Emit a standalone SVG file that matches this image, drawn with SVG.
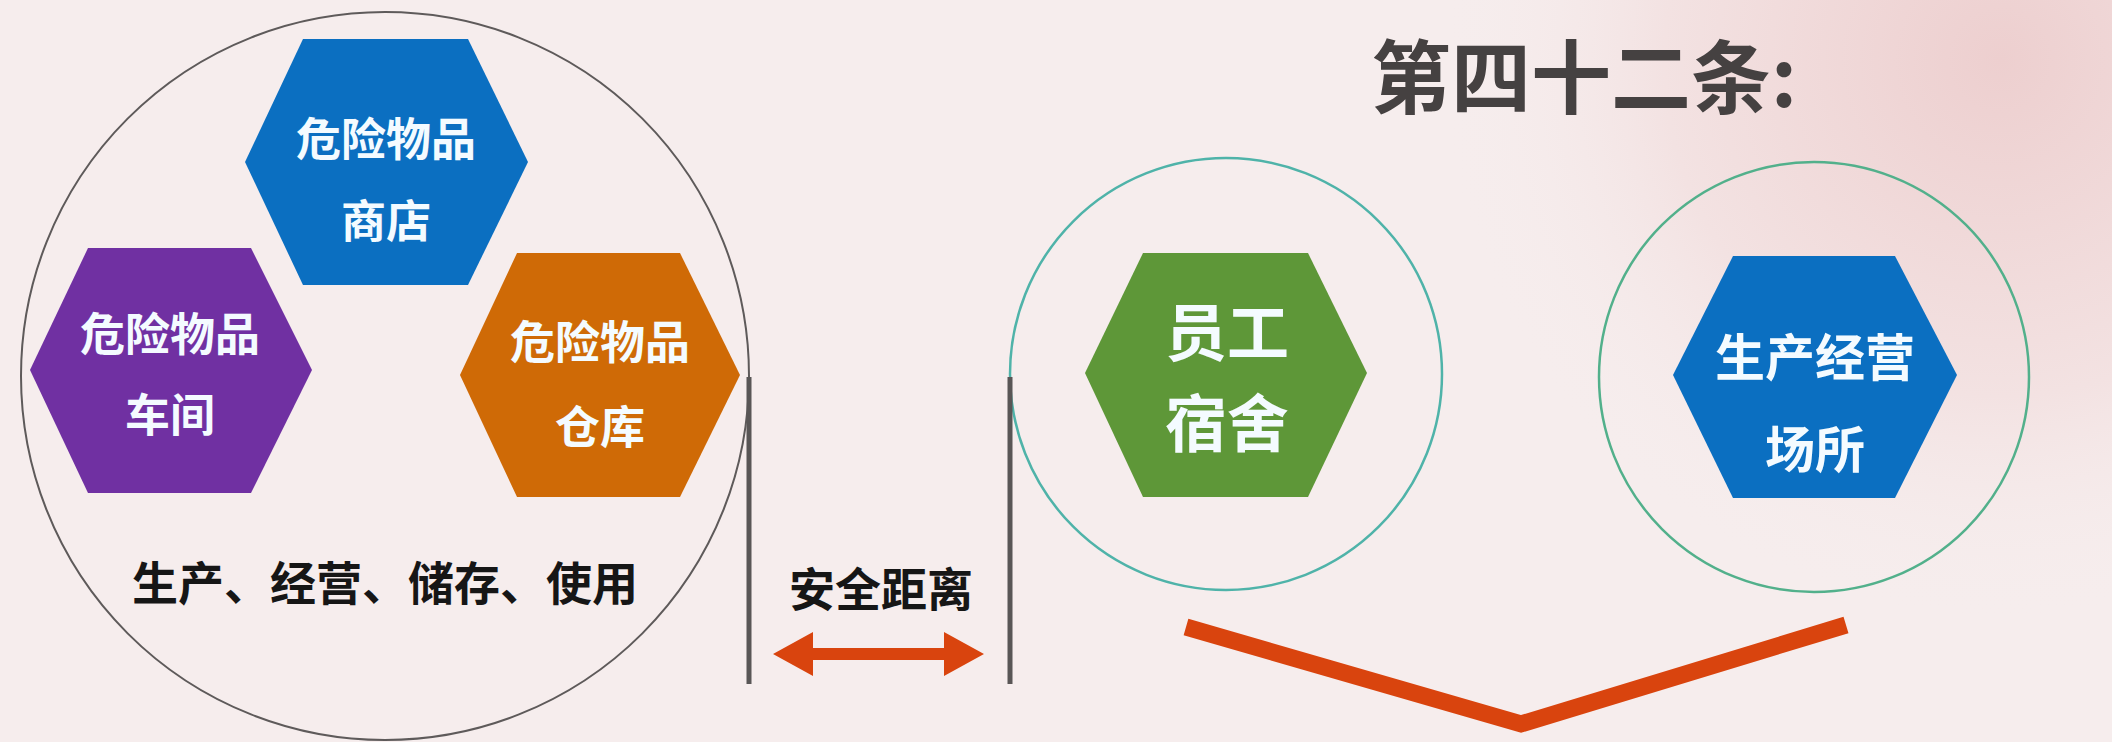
<svg xmlns="http://www.w3.org/2000/svg" width="2112" height="742" viewBox="0 0 2112 742">
  <defs>
    <radialGradient id="pink" cx="2000" cy="60" r="560" gradientUnits="userSpaceOnUse">
      <stop offset="0" stop-color="#edcfcf"/>
      <stop offset="0.6" stop-color="#f3e2e2"/>
      <stop offset="1" stop-color="#f6eded" stop-opacity="0"/>
    </radialGradient>
    <style>
      .hx { font-family: "Noto Sans CJK SC", "Noto Sans", sans-serif; font-weight: 700; fill: #f4fbff; text-anchor: middle; dominant-baseline: central; }
      .lbl { font-family: "Noto Sans CJK SC", "Noto Sans", sans-serif; font-weight: 700; fill: #161616; text-anchor: middle; dominant-baseline: central; }
      .ring { fill: none; }
    </style>
  </defs>

  <rect width="2112" height="742" fill="#f6eded"/>
  <rect width="2112" height="742" fill="url(#pink)"/>

  <text x="1584" y="72" font-family="Noto Sans CJK SC, Noto Sans, sans-serif" font-weight="700" font-size="80" fill="#454141" text-anchor="middle" dominant-baseline="central">第四十二条:</text>

  <g id="zone-hazard">
    <circle class="ring" cx="385" cy="376" r="364" stroke="#5e5a5a" stroke-width="2"/>
    <text class="lbl" x="385" y="580" font-size="46">生产、经营、储存、使用</text>
  </g>

  <g id="node-shop">
    <polygon points="245,162 303,39 468,39 528,162 468,285 303,285" fill="#0b6fc1"/>
    <text class="hx" x="386" y="136" font-size="45">危险物品</text>
    <text class="hx" x="386" y="218" font-size="45">商店</text>
  </g>

  <g id="node-workshop">
    <polygon points="30,370 88,248 251,248 312,370 251,493 88,493" fill="#7030a2"/>
    <text class="hx" x="170" y="331" font-size="45">危险物品</text>
    <text class="hx" x="170" y="412" font-size="45">车间</text>
  </g>

  <g id="node-warehouse">
    <polygon points="460,375 517,253 680,253 740,375 680,497 517,497" fill="#cf6a06"/>
    <text class="hx" x="600" y="339" font-size="45" fill="#fff6e6">危险物品</text>
    <text class="hx" x="600" y="424" font-size="45">仓库</text>
  </g>

  <g id="node-dorm">
    <circle class="ring" cx="1226" cy="374" r="216" stroke="#4fb3a9" stroke-width="2.5"/>
    <polygon points="1085,373 1143,253 1308,253 1367,373 1308,497 1143,497" fill="#5e9738"/>
    <text class="hx" x="1227" y="329" font-size="62" fill="#f6fce8">员工</text>
    <text class="hx" x="1227" y="420" font-size="62" fill="#f6fce8">宿舍</text>
  </g>

  <g id="node-site">
    <circle class="ring" cx="1814" cy="377" r="215" stroke="#52b08b" stroke-width="2.5"/>
    <polygon points="1673,375 1733,256 1895,256 1957,375 1895,498 1733,498" fill="#0b6fc1"/>
    <text class="hx" x="1815" y="354" font-size="50">生产经营</text>
    <text class="hx" x="1815" y="446" font-size="50">场所</text>
  </g>

  <g id="distance-label">
    <text class="lbl" x="881" y="586" font-size="46">安全距离</text>
  </g>

  <g id="connectors">
    <line x1="749" y1="377" x2="749" y2="684" stroke="#595656" stroke-width="5"/>
    <line x1="1010" y1="377" x2="1010" y2="684" stroke="#595656" stroke-width="5"/>
    <polygon points="773,654 813,632 813,648 944,648 944,632 984,654 944,676 944,660 813,660 813,676" fill="#d9440e"/>
    <polyline points="1186,627 1521,724 1846,625" fill="none" stroke="#d9440e" stroke-width="17" stroke-linejoin="miter"/>
  </g>
</svg>
